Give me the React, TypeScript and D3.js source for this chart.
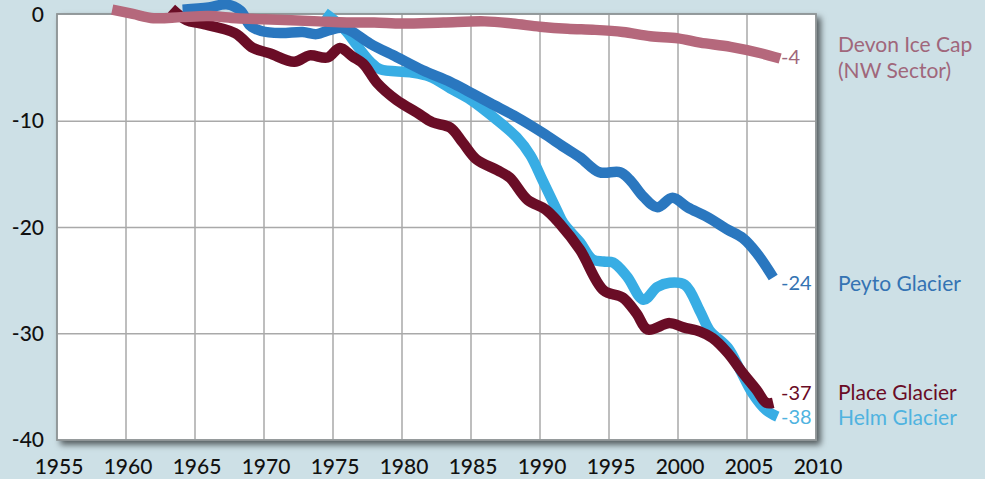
import React from "react";
import * as d3 from "d3";

// ---- data (cumulative mass balance, m w.e.) ----
const devonYears = [1959, 1960.5, 1962, 1964, 1966, 1968, 1970, 1972, 1974, 1976, 1978, 1980, 1983, 1986, 1988, 1990, 1992, 1994, 1996, 1998, 2000, 2001.6, 2003.8, 2006, 2007.4];
const devonValues = [0.5, 0.1, -0.3, -0.2, -0.1, -0.3, -0.4, -0.5, -0.6, -0.7, -0.7, -0.8, -0.7, -0.6, -0.8, -1.1, -1.3, -1.4, -1.6, -2.0, -2.2, -2.6, -3.0, -3.6, -4.1];

const peytoYears = [1964.1, 1966, 1967.3, 1968.3, 1969, 1969.8, 1971.2, 1972.8, 1973.8, 1974.8, 1975.6, 1976.3, 1977.7, 1979.6, 1981.5, 1983.5, 1984.9, 1986.4, 1988.3, 1990.2, 1991.7, 1992.9, 1994.3, 1995.8, 1996.5, 1997.5, 1998.5, 1999.6, 2000.7, 2002.1, 2003.6, 2004.7, 2005.7, 2006.9];
const peytoValues = [0.5, 0.7, 1.0, 0.4, -1.0, -1.5, -1.7, -1.6, -1.8, -1.4, -1.2, -1.5, -2.7, -3.95, -5.2, -6.3, -7.25, -8.3, -9.6, -11.1, -12.4, -13.4, -14.8, -14.8, -15.5, -17.1, -18.1, -17.2, -18.1, -19.0, -20.2, -21.0, -22.4, -24.7];

const placeYears = [1963.3, 1964.4, 1965.4, 1967.9, 1969.2, 1970.4, 1972.2, 1973.3, 1974.6, 1975.5, 1976.4, 1977.2, 1978.2, 1979.6, 1981.1, 1982.2, 1983.5, 1984.4, 1985.4, 1986.9, 1987.8, 1989.1, 1990.4, 1991.4, 1992.9, 1994.6, 1996.0, 1997.0, 1997.8, 1999.4, 2000.4, 2001.6, 2002.5, 2003.6, 2004.7, 2005.7, 2006.4, 2006.9];
const placeValues = [0.6, -0.5, -0.8, -1.7, -3.1, -3.6, -4.4, -3.8, -4.0, -3.1, -3.9, -4.6, -6.4, -8.0, -9.2, -10.1, -10.6, -12.0, -13.6, -14.6, -15.3, -17.4, -18.3, -19.6, -22.1, -25.9, -26.6, -28.1, -29.6, -29.0, -29.4, -29.8, -30.4, -31.8, -33.7, -35.3, -36.5, -36.5];

const helmYears = [1974.4, 1975.2, 1976.0, 1976.7, 1977.7, 1978.4, 1980.6, 1982.0, 1983.5, 1985.0, 1986.8, 1988.3, 1989.3, 1990.2, 1991.2, 1991.7, 1992.9, 1993.8, 1994.6, 1995.3, 1996.3, 1997.5, 1998.5, 1999.4, 2000.5, 2001.6, 2002.3, 2003.6, 2004.5, 2005.4, 2006.4, 2007.2];
const helmValues = [0.2, -0.6, -1.6, -2.8, -4.4, -5.1, -5.4, -5.8, -6.9, -8.0, -9.8, -11.5, -13.2, -15.6, -18.3, -19.6, -21.4, -23.0, -23.2, -23.3, -24.6, -26.8, -25.6, -25.2, -25.4, -27.9, -29.7, -31.3, -33.4, -35.6, -37.2, -37.8];

const xTicks = [1955, 1960, 1965, 1970, 1975, 1980, 1985, 1990, 1995, 2000, 2005, 2010];
const yTicks = [0, -10, -20, -30, -40];

const seriesNames = ["Devon Ice Cap|(NW Sector)", "Peyto Glacier", "Place Glacier", "Helm Glacier"];
const endLabels = ["-4", "-24", "-37", "-38"];

const W = 996;
const H = 479;
const FONT = "Lato, 'Open Sans', 'DejaVu Sans', sans-serif";

export default function App() {
  const x = d3.scaleLinear().domain([1955, 2010]).range([57, 816]);
  const y = d3.scaleLinear().domain([0, -40]).range([15, 440]);

  const line = d3
    .line<[number, number]>()
    .x((d) => x(d[0]))
    .y((d) => y(d[1]))
    .curve(d3.curveCatmullRom.alpha(0.5));

  const zip = (a: number[], b: number[]) => a.map((v, i) => [v, b[i]] as [number, number]);

  const series = [
    { key: "helm", data: zip(helmYears, helmValues), color: "#38ade4", text: "#4fb3e0", name: seriesNames[3], end: endLabels[3], labelY: 424, nameY: [425] },
    { key: "place", data: zip(placeYears, placeValues), color: "#6a0b25", text: "#6a0b25", name: seriesNames[2], end: endLabels[2], labelY: 400, nameY: [400] },
    { key: "peyto", data: zip(peytoYears, peytoValues), color: "#2a77bf", text: "#3473b3", name: seriesNames[1], end: endLabels[1], labelY: 290, nameY: [291] },
    { key: "devon", data: zip(devonYears, devonValues), color: "#b5687b", text: "#a0677b", name: seriesNames[0], end: endLabels[0], labelY: 64, nameY: [52, 78] },
  ];

  const x0 = x(1955);
  const x1 = x(2010);
  const yTop = y(0) - 1;
  const yBot = y(-40);

  return (
    <svg
      width={W}
      height={H}
      style={{ position: "absolute", left: 0, top: 0, display: "block" }}
      fontFamily={FONT}
    >
      <defs>
        <filter id="shadow" x="-5%" y="-5%" width="115%" height="115%">
          <feDropShadow dx="4" dy="4" stdDeviation="3" floodColor="#000" floodOpacity="0.6" />
        </filter>
        <filter id="soft" x="-5%" y="-5%" width="110%" height="110%">
          <feGaussianBlur stdDeviation="0.6" />
        </filter>
      </defs>
      <rect x={0} y={0} width={985} height={H} fill="#cde0e6" />
      <rect x={985} y={0} width={W - 985} height={H} fill="#ffffff" />

      {/* plot frame */}
      <rect x={x0} y={yTop} width={x1 - x0} height={yBot - yTop} fill="#ffffff" stroke="#8f9596" strokeWidth={1.5} filter="url(#shadow)" />

      {/* grid */}
      {xTicks.slice(1, -1).map((t) => (
        <line key={"gx" + t} x1={x(t)} x2={x(t)} y1={yTop} y2={yBot} stroke="#a9a9a9" strokeWidth={1.5} />
      ))}
      {yTicks.slice(1, -1).map((t) => (
        <line key={"gy" + t} x1={x0} x2={x1} y1={y(t)} y2={y(t)} stroke="#a9a9a9" strokeWidth={1.5} />
      ))}
      <rect x={x0} y={yTop} width={x1 - x0} height={yBot - yTop} fill="none" stroke="#8f9596" strokeWidth={1.5} />

      {/* axis labels */}
      {yTicks.map((t) => (
        <text key={"yl" + t} x={44} y={y(t) + 7} textAnchor="end" fontSize={21} fontWeight={500} fill="#111">
          {t}
        </text>
      ))}
      {xTicks.map((t) => (
        <text key={"xl" + t} x={x(t) + 2} y={474} textAnchor="middle" fontSize={21} fontWeight={500} fill="#111">
          {t}
        </text>
      ))}

      {/* lines */}
      <g filter="url(#soft)">
        {series.map((s) => (
          <path
            key={s.key}
            d={line(s.data) || ""}
            fill="none"
            stroke={s.color}
            strokeWidth={10.5}
            strokeLinejoin="round"
            strokeLinecap="butt"
          />
        ))}
      </g>

      {/* end labels and names */}
      {series.map((s) => (
        <g key={"lab" + s.key}>
          <text x={781} y={s.labelY} fontSize={20} fill={s.text}>
            {s.end}
          </text>
          {s.name.split("|").map((part, i) => (
            <text key={i} x={838} y={s.nameY[i]} fontSize={21} fill={s.text}>
              {part}
            </text>
          ))}
        </g>
      ))}
    </svg>
  );
}
